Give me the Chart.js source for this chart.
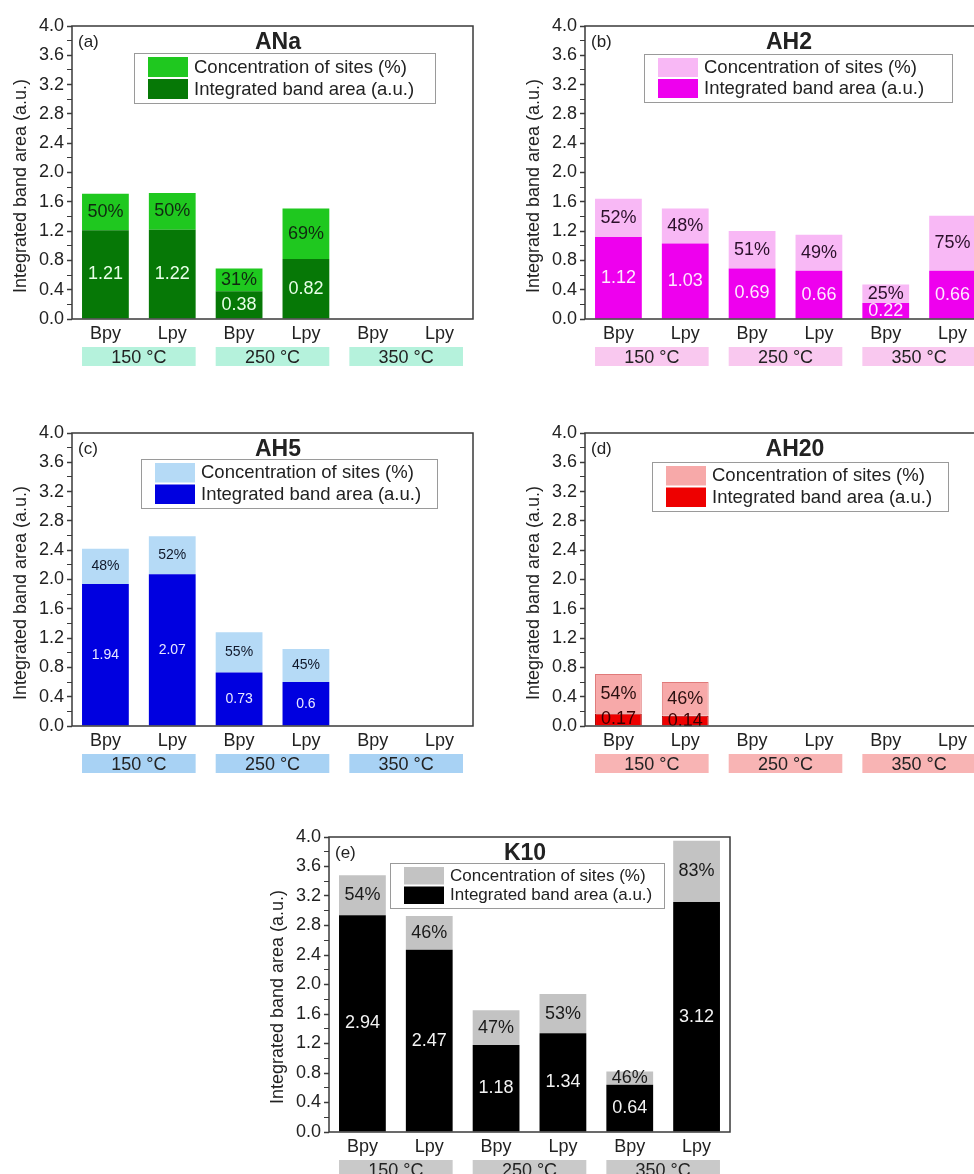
<!DOCTYPE html>
<html>
<head>
<meta charset="utf-8">
<title>Integrated band area</title>
<script src="https://cdn.jsdelivr.net/npm/chart.js@4.4.1/dist/chart.umd.min.js"></script>
<style>
  html, body { margin: 0; padding: 0; background: #fff; overflow: hidden; }
  body { width: 974px; height: 1174px; position: relative; }
  canvas { position: absolute; }
</style>
</head>
<body>
<canvas id="chartA" width="487" height="380" style="left:0px;top:0px"></canvas>
<canvas id="chartB" width="487" height="380" style="left:513px;top:0px"></canvas>
<canvas id="chartC" width="487" height="380" style="left:0px;top:407px"></canvas>
<canvas id="chartD" width="487" height="380" style="left:513px;top:407px"></canvas>
<canvas id="chartE" width="487" height="382" style="left:257px;top:811px"></canvas>
<script>
const categories = ['Bpy', 'Lpy', 'Bpy', 'Lpy', 'Bpy', 'Lpy'];
const temperatures = ['150 °C', '250 °C', '350 °C'];
const yTitle = 'Integrated band area (a.u.)';

// ANa
const anaBand = [1.21, 1.22, 0.38, 0.82, null, null];
const anaConc = [0.50, 0.50, 0.31, 0.69, null, null];
const anaPct = ['50%', '50%', '31%', '69%', '', ''];

// AH2
const ah2Band = [1.12, 1.03, 0.69, 0.66, 0.22, 0.66];
const ah2Conc = [0.52, 0.48, 0.51, 0.49, 0.25, 0.75];
const ah2Pct = ['52%', '48%', '51%', '49%', '25%', '75%'];

// AH5
const ah5Band = [1.94, 2.07, 0.73, 0.6, null, null];
const ah5Conc = [0.48, 0.52, 0.55, 0.45, null, null];
const ah5Pct = ['48%', '52%', '55%', '45%', '', ''];

// AH20
const ah20Band = [0.17, 0.14, null, null, null, null];
const ah20Conc = [0.54, 0.46, null, null, null, null];
const ah20Pct = ['54%', '46%', '', '', '', ''];

// K10 (light part of Bpy 350 is drawn shorter than its label)
const k10Band = [2.94, 2.47, 1.18, 1.34, 0.64, 3.12];
const k10Conc = [0.54, 0.46, 0.47, 0.53, 0.18, 0.83];
const k10Pct = ['54%', '46%', '47%', '53%', '46%', '83%'];

const FONT = "'Liberation Sans', Arial, Helvetica, sans-serif";
Chart.defaults.font.family = FONT;
Chart.defaults.color = '#222';

function decor(cfg) {
    return {
        id: 'decor',
        beforeDraw(chart) {
            // temperature boxes under the category labels
            const ctx = chart.ctx;
            const a = chart.chartArea;
            const x = chart.scales.x;
            const step = x.getPixelForValue(1) - x.getPixelForValue(0);
            const bw = step * 0.7;
            ctx.save();
            temperatures.forEach((t, g) => {
                const left = x.getPixelForValue(2 * g) - bw / 2;
                const right = x.getPixelForValue(2 * g + 1) + bw / 2;
                const top = a.bottom + 28;
                ctx.fillStyle = cfg.tempBox;
                ctx.fillRect(left, top, right - left, 19);
                ctx.fillStyle = '#222';
                ctx.font = '18px ' + FONT;
                ctx.textAlign = 'center';
                ctx.textBaseline = 'middle';
                ctx.fillText(t, (left + right) / 2, top + 11);
            });
            // y axis title, a bit below the middle like the original
            ctx.translate(21, a.top + 160);
            ctx.rotate(-Math.PI / 2);
            ctx.font = '18px ' + FONT;
            ctx.fillText(yTitle, 0, 0);
            ctx.restore();
        },
        afterDatasetsDraw(chart) {
            const ctx = chart.ctx;
            const a = chart.chartArea;

            // value labels inside segments
            ctx.save();
            ctx.textAlign = 'center';
            ctx.textBaseline = 'middle';
            chart.data.datasets.forEach((ds, di) => {
                const meta = chart.getDatasetMeta(di);
                const texts = di === 0 ? ds.data.map(v => v == null ? '' : String(v)) : cfg.pct;
                ctx.fillStyle = di === 0 ? cfg.bandText : cfg.pctText;
                ctx.font = cfg.labelFont + 'px ' + FONT;
                meta.data.forEach((bar, i) => {
                    if (ds.data[i] == null || !texts[i]) return;
                    ctx.fillText(texts[i], bar.x, (bar.y + bar.base) / 2);
                });
            });
            ctx.restore();

            // frame
            ctx.save();
            ctx.strokeStyle = '#3a3a3a';
            ctx.lineWidth = 1.5;
            ctx.strokeRect(a.left, a.top, a.right - a.left, a.bottom - a.top);
            ctx.restore();

            // panel tag and title
            ctx.save();
            ctx.fillStyle = '#222';
            ctx.textBaseline = 'middle';
            ctx.textAlign = 'left';
            ctx.font = '17px ' + FONT;
            ctx.fillText(cfg.tag, a.left + 6, a.top + 16);
            ctx.textAlign = 'center';
            ctx.font = 'bold 23px ' + FONT;
            ctx.fillText(cfg.title, a.left + cfg.titleX, a.top + 17);
            ctx.restore();

            // legend
            const lg = cfg.legend;
            const lx = a.left + lg.x, ly = a.top + lg.y;
            ctx.save();
            ctx.fillStyle = '#fff';
            ctx.fillRect(lx, ly, lg.w, lg.h);
            ctx.strokeStyle = '#9a9a9a';
            ctx.lineWidth = 1;
            ctx.strokeRect(lx + 0.5, ly + 0.5, lg.w, lg.h);
            const sw = 40, half = (lg.h - 8) / 2;
            ctx.fillStyle = cfg.light;
            ctx.fillRect(lx + 14, ly + 4, sw, half - 1);
            ctx.fillStyle = cfg.dark;
            ctx.fillRect(lx + 14, ly + 4 + half + 1, sw, half - 1);
            ctx.fillStyle = '#222';
            ctx.textAlign = 'left';
            ctx.textBaseline = 'middle';
            ctx.font = lg.font + 'px ' + FONT;
            ctx.fillText('Concentration of sites (%)', lx + 60, ly + 4 + half / 2);
            ctx.fillText('Integrated band area (a.u.)', lx + 60, ly + 4 + half + half / 2 + 1);
            ctx.restore();
        }
    };
}

function makePanel(id, band, conc, cfg) {
    new Chart(document.getElementById(id), {
        type: 'bar',
        data: {
            labels: categories,
            datasets: [{
                label: 'Integrated band area (a.u.)',
                data: band,
                backgroundColor: cfg.dark,
                borderColor: cfg.darkBorder || cfg.dark,
                borderWidth: cfg.darkBorder ? 1 : 0,
                barPercentage: 0.7,
                categoryPercentage: 1.0
            }, {
                label: 'Concentration of sites (%)',
                data: conc,
                backgroundColor: cfg.light,
                borderColor: cfg.lightBorder || cfg.light,
                borderWidth: cfg.lightBorder ? 1 : 0,
                barPercentage: 0.7,
                categoryPercentage: 1.0
            }]
        },
        options: {
            responsive: false,
            animation: false,
            layout: { padding: { top: 26, right: 14, left: 0, bottom: 0 } },
            plugins: { legend: { display: false }, tooltip: { enabled: false } },
            scales: {
                x: {
                    stacked: true,
                    grid: { display: false, drawTicks: false },
                    border: { display: false },
                    ticks: { font: { size: 18 }, color: '#222', padding: 4 },
                    afterFit: s => { s.height = 61; }
                },
                y: {
                    stacked: true,
                    min: 0,
                    max: 4,
                    grid: {
                        display: true,
                        drawOnChartArea: false,
                        tickLength: 5,
                        color: '#3a3a3a',
                        tickWidth: c => Math.round(c.tick.value * 10) % 4 === 0 ? 1.5 : 1
                    },
                    border: { display: false },
                    ticks: {
                        stepSize: 0.2,
                        autoSkip: false,
                        padding: 3,
                        font: { size: 18 },
                        color: '#222',
                        callback: v => Math.round(v * 10) % 4 === 0 ? v.toFixed(1) : ''
                    },
                    title: { display: false },
                    afterFit: s => { s.width = 72; }
                }
            }
        },
        plugins: [decor(cfg)]
    });
}

makePanel('chartA', anaBand, anaConc, {
    tag: '(a)', title: 'ANa', titleX: 206, pct: anaPct,
    light: '#1fc81f', dark: '#067806', tempBox: '#b5f2dc',
    bandText: '#e8ffe8', pctText: '#102810', labelFont: 18,
    legend: { x: 62, y: 27, w: 301, h: 50, font: 18.5 }
});
makePanel('chartB', ah2Band, ah2Conc, {
    tag: '(b)', title: 'AH2', titleX: 204, pct: ah2Pct,
    light: '#f8b8f5', dark: '#ee00ee', tempBox: '#f9c8ef',
    bandText: '#ffe8ff', pctText: '#2a102a', labelFont: 18,
    legend: { x: 59, y: 28, w: 308, h: 48, font: 18.5 }
});
makePanel('chartC', ah5Band, ah5Conc, {
    tag: '(c)', title: 'AH5', titleX: 206, pct: ah5Pct,
    light: '#b5daf6', dark: '#0000e0', tempBox: '#a8d2f4',
    bandText: '#e8e8ff', pctText: '#10182a', labelFont: 14,
    legend: { x: 69, y: 26, w: 296, h: 49, font: 18.5 }
});
makePanel('chartD', ah20Band, ah20Conc, {
    tag: '(d)', title: 'AH20', titleX: 210, pct: ah20Pct,
    light: '#f7a9a9', dark: '#ee0000', lightBorder: '#e07a7a', darkBorder: '#b00000',
    tempBox: '#f8b4b4',
    bandText: '#3a0000', pctText: '#2a1010', labelFont: 18,
    legend: { x: 67, y: 29, w: 296, h: 49, font: 18.5 }
});
makePanel('chartE', k10Band, k10Conc, {
    tag: '(e)', title: 'K10', titleX: 196, pct: k10Pct,
    light: '#c3c3c3', dark: '#000000', tempBox: '#c9c9c9',
    bandText: '#f2f2f2', pctText: '#1a1a1a', labelFont: 18,
    legend: { x: 61, y: 26, w: 274, h: 45, font: 17 }
});
</script>
</body>
</html>
